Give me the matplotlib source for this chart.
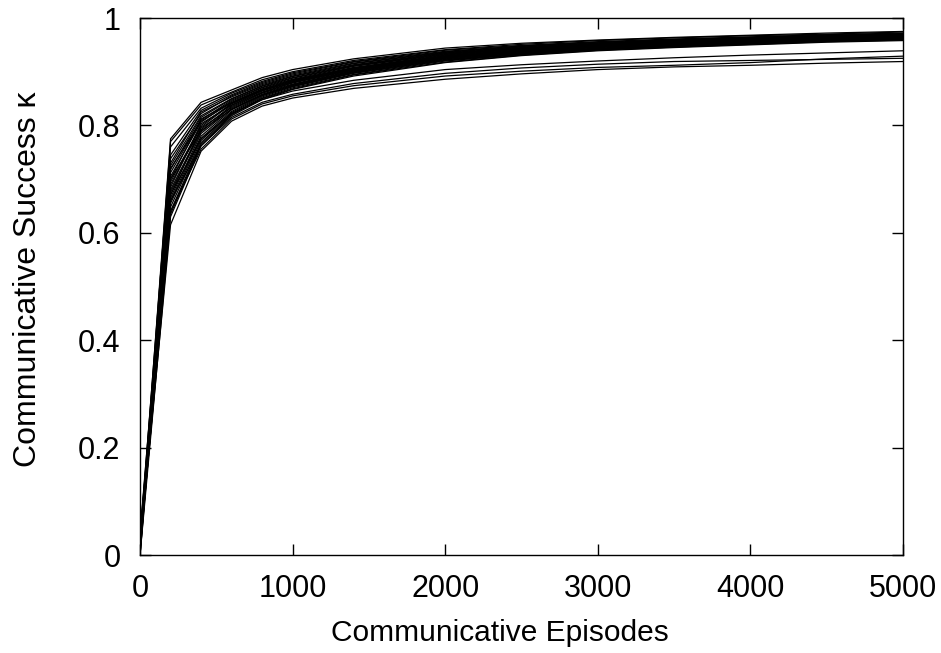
import matplotlib
matplotlib.use('Agg')
import matplotlib.pyplot as plt

plt.rcParams['font.family'] = ['Liberation Sans', 'DejaVu Sans']

# sample points (communicative episodes)
episodes = [0, 200, 400, 600, 800, 1000, 1400, 2000, 2500, 3000, 3500, 4000, 4500, 5000]

# communicative success per run
success_runs = [
    [0.02, 0.775, 0.843, 0.866, 0.889, 0.904, 0.924, 0.944, 0.953, 0.959, 0.964, 0.968, 0.972, 0.975],
    [0.01, 0.770, 0.838, 0.862, 0.885, 0.900, 0.921, 0.941, 0.951, 0.958, 0.963, 0.967, 0.970, 0.974],
    [0.03, 0.760, 0.832, 0.860, 0.882, 0.898, 0.919, 0.940, 0.949, 0.956, 0.961, 0.965, 0.969, 0.972],
    [0.00, 0.745, 0.828, 0.857, 0.880, 0.896, 0.918, 0.938, 0.948, 0.955, 0.960, 0.964, 0.968, 0.971],
    [0.02, 0.738, 0.822, 0.855, 0.878, 0.894, 0.916, 0.937, 0.947, 0.954, 0.959, 0.963, 0.967, 0.970],
    [0.01, 0.730, 0.825, 0.853, 0.876, 0.892, 0.915, 0.936, 0.946, 0.953, 0.958, 0.963, 0.966, 0.970],
    [0.04, 0.725, 0.818, 0.850, 0.874, 0.891, 0.913, 0.935, 0.945, 0.952, 0.958, 0.962, 0.966, 0.969],
    [0.02, 0.718, 0.815, 0.849, 0.873, 0.889, 0.912, 0.934, 0.944, 0.951, 0.957, 0.961, 0.965, 0.968],
    [0.03, 0.712, 0.810, 0.847, 0.871, 0.888, 0.911, 0.933, 0.943, 0.951, 0.956, 0.961, 0.964, 0.968],
    [0.00, 0.705, 0.806, 0.845, 0.870, 0.886, 0.910, 0.932, 0.943, 0.950, 0.955, 0.960, 0.964, 0.967],
    [0.01, 0.700, 0.812, 0.843, 0.868, 0.885, 0.908, 0.931, 0.942, 0.949, 0.955, 0.959, 0.963, 0.967],
    [0.03, 0.695, 0.800, 0.841, 0.866, 0.884, 0.907, 0.930, 0.941, 0.948, 0.954, 0.959, 0.963, 0.966],
    [0.02, 0.690, 0.797, 0.840, 0.865, 0.882, 0.906, 0.929, 0.940, 0.948, 0.953, 0.958, 0.962, 0.966],
    [0.01, 0.685, 0.803, 0.838, 0.864, 0.881, 0.905, 0.928, 0.939, 0.947, 0.953, 0.957, 0.962, 0.965],
    [0.04, 0.680, 0.792, 0.837, 0.862, 0.880, 0.904, 0.927, 0.938, 0.946, 0.952, 0.957, 0.961, 0.965],
    [0.02, 0.676, 0.788, 0.835, 0.861, 0.879, 0.903, 0.926, 0.938, 0.946, 0.952, 0.956, 0.961, 0.964],
    [0.00, 0.670, 0.795, 0.833, 0.860, 0.877, 0.902, 0.926, 0.937, 0.945, 0.951, 0.956, 0.960, 0.964],
    [0.03, 0.665, 0.785, 0.831, 0.858, 0.876, 0.901, 0.925, 0.936, 0.944, 0.950, 0.955, 0.960, 0.963],
    [0.01, 0.660, 0.780, 0.829, 0.856, 0.875, 0.900, 0.924, 0.935, 0.943, 0.950, 0.955, 0.959, 0.963],
    [0.02, 0.655, 0.776, 0.826, 0.855, 0.873, 0.898, 0.922, 0.934, 0.942, 0.949, 0.954, 0.958, 0.962],
    [0.03, 0.648, 0.772, 0.824, 0.853, 0.872, 0.897, 0.921, 0.933, 0.942, 0.948, 0.953, 0.958, 0.961],
    [0.01, 0.640, 0.768, 0.822, 0.851, 0.870, 0.895, 0.920, 0.932, 0.941, 0.947, 0.952, 0.957, 0.960],
    [0.02, 0.635, 0.765, 0.820, 0.850, 0.868, 0.894, 0.918, 0.931, 0.940, 0.946, 0.951, 0.956, 0.959],
    [0.00, 0.630, 0.762, 0.818, 0.848, 0.867, 0.892, 0.917, 0.930, 0.939, 0.945, 0.950, 0.955, 0.958],
    [0.02, 0.700, 0.790, 0.830, 0.857, 0.874, 0.899, 0.923, 0.934, 0.942, 0.948, 0.953, 0.957, 0.960],
    [0.01, 0.720, 0.808, 0.842, 0.867, 0.883, 0.906, 0.928, 0.939, 0.947, 0.952, 0.957, 0.961, 0.965],
    # slower runs
    [0.02, 0.615, 0.752, 0.808, 0.836, 0.851, 0.869, 0.886, 0.896, 0.904, 0.909, 0.912, 0.916, 0.919],
    [0.01, 0.640, 0.756, 0.812, 0.840, 0.855, 0.874, 0.892, 0.901, 0.908, 0.912, 0.917, 0.924, 0.929],
    [0.03, 0.660, 0.762, 0.815, 0.843, 0.858, 0.878, 0.897, 0.907, 0.914, 0.919, 0.921, 0.923, 0.925],
    [0.02, 0.672, 0.775, 0.822, 0.848, 0.864, 0.884, 0.904, 0.913, 0.920, 0.926, 0.931, 0.935, 0.939],
]

x_ticks = [0, 1000, 2000, 3000, 4000, 5000]
y_ticks = [0, 0.2, 0.4, 0.6, 0.8, 1]
y_tick_labels = ['0', '0.2', '0.4', '0.6', '0.8', '1']

fig = plt.figure(figsize=(9.41, 6.53), dpi=100)
ax = fig.add_axes([0.1488, 0.150, 0.8108, 0.8224])

for run in success_runs:
    ax.plot(episodes, run, color='black', linewidth=0.9)

ax.set_xlim(0, 5000)
ax.set_ylim(0, 1)
ax.set_xticks(x_ticks)
ax.set_yticks(y_ticks)
ax.set_yticklabels(y_tick_labels)
ax.tick_params(direction='in', length=8, width=1, top=True, right=True,
               labelsize=22)
ax.tick_params(axis='x', pad=14)
ax.tick_params(axis='y', pad=14)
for s in ax.spines.values():
    s.set_linewidth(1)

ax.set_xlabel('Communicative Episodes', fontsize=21.5, va='center')
ax.xaxis.set_label_coords(0.4718, -0.1453)
ax.set_ylabel('Communicative Success κ', fontsize=23, va='center')
ax.yaxis.set_label_coords(-0.1474, 0.514)

fig.savefig('out.png', dpi=100)
